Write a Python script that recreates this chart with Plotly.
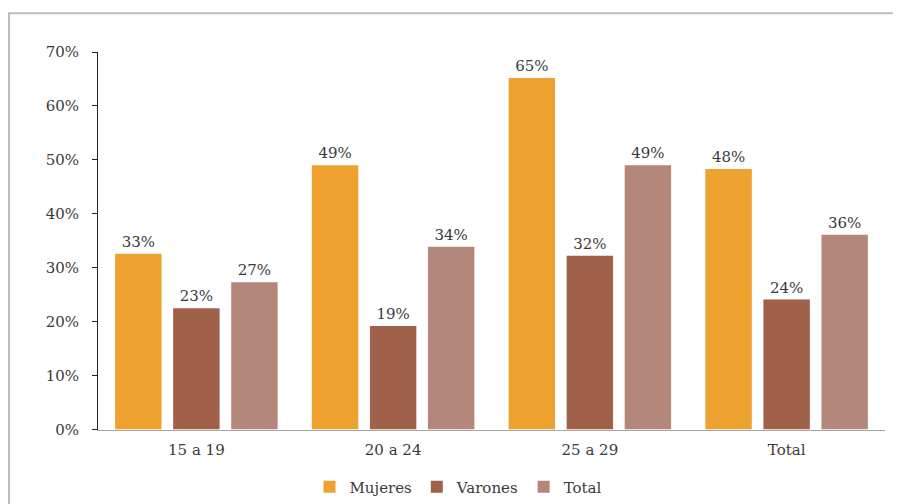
import plotly.graph_objects as go

categories = ["15 a 19", "20 a 24", "25 a 29", "Total"]
mujeres = [32.6, 49.0, 65.2, 48.3]
varones = [22.5, 19.2, 32.2, 24.1]
total = [27.3, 33.9, 49.0, 36.1]
y_ticks = [0, 10, 20, 30, 40, 50, 60, 70]
y_tick_labels = [f"{v}%" for v in y_ticks]

series = [
    ("Mujeres", mujeres, "#EDA230"),
    ("Varones", varones, "#A0614A"),
    ("Total", total, "#B4877B"),
]

FONT = "DejaVu Serif"
TXT = "#3A3A3A"
FS = 15

# page has 8px body margin -> figure is 893x496 placed at (8,8)
W, H = 893, 496
L, R, T, B = 90, 16, 44, 72
PW, PH = W - L - R, H - T - B

fig = go.Figure()
for name, vals, col in series:
    fig.add_trace(go.Bar(
        x=categories, y=vals, name=name,
        marker=dict(color=col, line=dict(width=0)),
        texttemplate="%{y:.0f}%", textposition="outside",
        textfont=dict(family=FONT, size=FS, color=TXT),
        cliponaxis=False,
    ))

fig.update_layout(
    width=W, height=H,
    margin=dict(l=L, r=R, t=T, b=B),
    paper_bgcolor="white", plot_bgcolor="white",
    barmode="group", bargap=0.115, bargroupgap=0.2,
    font=dict(family=FONT, size=FS, color=TXT),
    showlegend=True,
    legend=dict(orientation="h", xref="container", yref="container",
                x=450 / W, xanchor="center", y=17 / H, yanchor="middle",
                font=dict(family=FONT, size=FS, color=TXT), itemwidth=30,
                tracegroupgap=0),
    xaxis=dict(showline=True, linecolor="#A6A6A6", linewidth=1, ticks="",
               showgrid=False, ticklabelstandoff=6,
               tickfont=dict(family=FONT, size=FS, color=TXT)),
    yaxis=dict(range=[0, 70], tickvals=y_ticks, ticktext=y_tick_labels,
               showline=True, linecolor="#222222", linewidth=1,
               ticks="outside", ticklen=5, tickcolor="#222222",
               showgrid=False, zeroline=False, ticklabelstandoff=10,
               tickfont=dict(family=FONT, size=FS, color=TXT)),
    shapes=[dict(type="rect", xref="paper", yref="paper",
                 x0=(1 - L) / PW, x1=1.2, y0=-0.4, y1=(PH + T - 5) / PH,
                 line=dict(color="#BDBDBD", width=2), layer="below")],
)

fig.write_html("out.html")
